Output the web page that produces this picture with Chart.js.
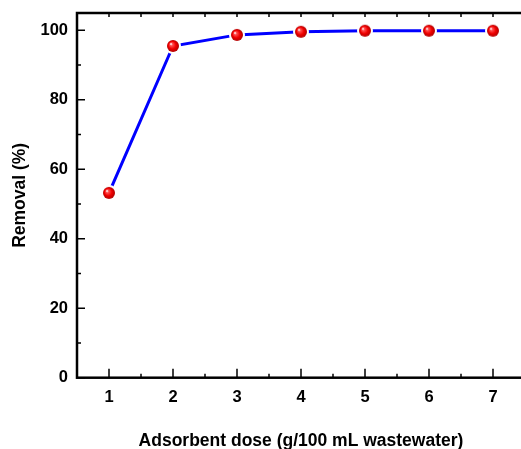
<!DOCTYPE html>
<html>
<head>
<meta charset="utf-8">
<script src="https://cdn.jsdelivr.net/npm/chart.js@4/dist/chart.umd.min.js"></script>
<style>
  html, body { margin: 0; padding: 0; background: #fff; overflow: hidden; }
  #wrap { width: 540px; height: 460px; }
</style>
</head>
<body>
<div id="wrap"><canvas id="c" width="540" height="460"></canvas></div>
<script>
// data
var doses = [1, 2, 3, 4, 5, 6, 7];
var removal = [53.2, 95.5, 98.7, 99.6, 99.9, 99.9, 99.9];
var xTicks = [1, 2, 3, 4, 5, 6, 7];
var yTicks = [0, 20, 40, 60, 80, 100];

// red ball marker with a thin white halo
function ball(r) {
	var h = 2;
	var c = document.createElement('canvas');
	c.width = (r + h) * 2;
	c.height = (r + h) * 2;
	var g = c.getContext('2d');
	var cx = r + h, cy = r + h;
	g.fillStyle = '#fff';
	g.beginPath();
	g.arc(cx, cy, r + h, 0, Math.PI * 2);
	g.fill();
	var grad = g.createRadialGradient(cx - r * 0.35, cy - r * 0.35, 0.3, cx, cy, r);
	grad.addColorStop(0, '#ffffff');
	grad.addColorStop(0.2, '#ff5050');
	grad.addColorStop(0.6, '#f00000');
	grad.addColorStop(1, '#b00000');
	g.fillStyle = grad;
	g.beginPath();
	g.arc(cx, cy, r, 0, Math.PI * 2);
	g.fill();
	return c;
}

// frame and inward ticks, like the original plot
var framePlugin = {
	id: 'frame',
	afterDraw: function (chart) {
		var ctx = chart.ctx;
		var a = chart.chartArea;
		var xs = chart.scales.x, ys = chart.scales.y;
		ctx.save();
		ctx.strokeStyle = '#000';
		ctx.lineWidth = 1.5;
		ctx.beginPath();
		for (var v = 0.5; v <= 7.5; v += 0.5) {
			var px = xs.getPixelForValue(v);
			var len = (v % 1 === 0) ? 9 : 4;
			ctx.moveTo(px, a.bottom);
			ctx.lineTo(px, a.bottom - len);
			ctx.moveTo(px, a.top);
			ctx.lineTo(px, a.top + 4);
		}
		for (var w = 0; w <= 100; w += 10) {
			var py = ys.getPixelForValue(w);
			var l2 = (w % 20 === 0) ? 8 : 4;
			ctx.moveTo(a.left, py);
			ctx.lineTo(a.left + l2, py);
		}
		ctx.stroke();
		ctx.lineWidth = 2.5;
		ctx.strokeRect(a.left, a.top, a.right - a.left, a.bottom - a.top);
		ctx.restore();
	}
};

var pts = [];
for (var i = 0; i < doses.length; i++) {
	pts.push({ x: doses[i], y: removal[i] });
}

new Chart(document.getElementById('c'), {
	type: 'line',
	data: {
		datasets: [{
			data: pts,
			borderColor: '#0000ff',
			borderWidth: 3,
			pointStyle: ball(6),
			pointRadius: 6,
			tension: 0,
			clip: false
		}]
	},
	options: {
		responsive: false,
		animation: false,
		layout: { autoPadding: false, padding: { top: 13, right: 15, left: 0, bottom: 0 } },
		plugins: { legend: { display: false }, tooltip: { enabled: false } },
		scales: {
			x: {
				type: 'linear',
				min: 0.5,
				max: 7.5,
				afterBuildTicks: function (s) { s.ticks = xTicks.map(function (v) { return { value: v }; }); },
				afterFit: function (s) { s.height = 82.3; s.paddingLeft = 0; s.paddingRight = 0; },
				grid: { display: false, drawTicks: false },
				border: { display: false },
				ticks: {
					padding: 9.4,
					color: '#000',
					font: { family: 'Liberation Sans, Arial', size: 16.5, weight: 'bold' },
					maxRotation: 0
				},
				title: {
					display: true,
					text: 'Adsorbent dose (g/100 mL wastewater)',
					color: '#000',
					font: { family: 'Liberation Sans, Arial', size: 17.5, weight: 'bold' },
					padding: { top: 0, bottom: 8.5 }
				}
			},
			y: {
				min: 0,
				max: 105,
				afterBuildTicks: function (s) { s.ticks = yTicks.map(function (v) { return { value: v }; }); },
				afterFit: function (s) { s.width = 77; s.paddingTop = 0; s.paddingBottom = 0; },
				grid: { display: false, drawTicks: false },
				border: { display: false },
				ticks: {
					padding: 9,
					color: '#000',
					font: { family: 'Liberation Sans, Arial', size: 16.5, weight: 'bold' }
				},
				title: {
					display: true,
					text: 'Removal (%)',
					color: '#000',
					font: { family: 'Liberation Sans, Arial', size: 17.5, weight: 'bold' },
					padding: { top: 10, bottom: 0 }
				}
			}
		}
	},
	plugins: [framePlugin]
});
</script>
</body>
</html>
